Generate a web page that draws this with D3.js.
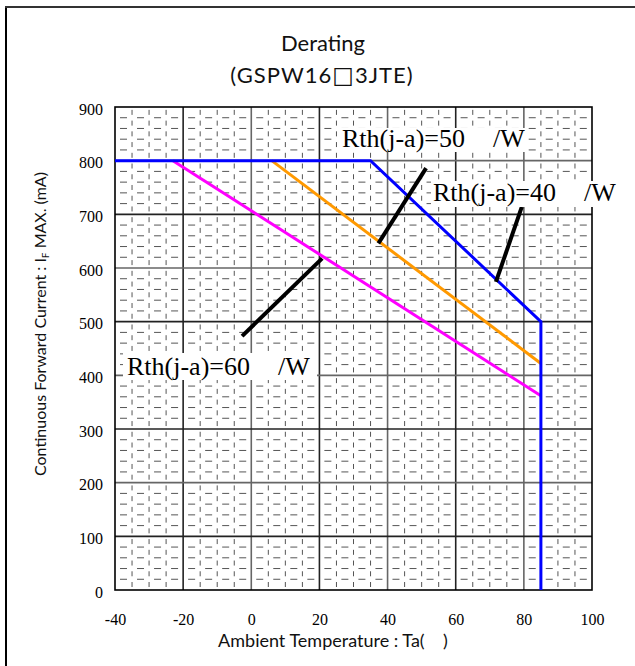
<!DOCTYPE html>
<html>
<head>
<meta charset="utf-8">
<script src="https://cdn.jsdelivr.net/npm/d3@7"></script>
<style>
  html, body { margin: 0; padding: 0; background: #fff; }
  svg { display: block; }
  .tick text { font-family: "Liberation Serif", "Times New Roman", serif !important; }
</style>
</head>
<body>
<svg id="chart" width="635" height="666"></svg>
<script>
// ---- data ----
const tempTicks = [-40, -20, 0, 20, 40, 60, 80, 100];
const currentTicks = [0, 100, 200, 300, 400, 500, 600, 700, 800, 900];

// Rth(j-a)=40 /W (blue)
const rth40Temp = [-40, 35, 85, 85];
const rth40Current = [800, 800, 500, 0];
// Rth(j-a)=50 /W (orange)
const rth50Temp = [6, 85];
const rth50Current = [800, 422];
// Rth(j-a)=60 /W (magenta)
const rth60Temp = [-23, 85];
const rth60Current = [800, 362];

// leader lines [temp, current] pairs
const leader50 = [[51.3, 786], [37.3, 646]];
const leader40 = [[79.4, 714], [71.8, 574]];
const leader60 = [[-2.7, 473], [20.8, 618]];

const labelTexts = ["Rth(j-a)=50", "Rth(j-a)=40", "Rth(j-a)=60"];
const labelUnit = "/W";

const titleLine1 = "Derating";
const titleLine2 = ["(GSPW16", "\u25A1", "3JTE)"];
const xTitle = "Ambient Temperature : Ta(    )";

// ---- layout ----
(function () {
const svg = d3.select("#chart");
const pL = 115, pR = 592, pT = 107, pB = 590;

const x = d3.scaleLinear().domain([-40, 100]).range([pL, pR]);
const y = d3.scaleLinear().domain([0, 900]).range([pB, pT]);

// outer frame (only left/top visible)
svg.append("line").attr("x1", 6).attr("y1", 7).attr("x2", 6).attr("y2", 680)
  .attr("stroke", "#000").attr("stroke-width", 2);
svg.append("line").attr("x1", 5).attr("y1", 7).attr("x2", 650).attr("y2", 7)
  .attr("stroke", "#333").attr("stroke-width", 2);

// minor grid
const g = svg.append("g");
const minorT = d3.range(-40, 100.001, 5).filter(t => t % 20 !== 0);
const minorI = d3.range(0, 900.001, 20).filter(v => v % 100 !== 0);

g.selectAll(".mh").data(minorI).join("line")
  .attr("x1", pL).attr("x2", pR)
  .attr("y1", d => y(d)).attr("y2", d => y(d))
  .attr("stroke", "#555").attr("stroke-width", 1)
  .attr("stroke-dasharray", "7,10.03").attr("stroke-dashoffset", -5);

g.selectAll(".mv").data(minorT).join("line")
  .attr("y1", pB).attr("y2", pT)
  .attr("x1", d => x(d)).attr("x2", d => x(d))
  .attr("stroke", "#555").attr("stroke-width", 1)
  .attr("stroke-dasharray", "5,5.73").attr("stroke-dashoffset", -3);

// major grid
const majorT = d3.range(-20, 100, 20);
const majorI = d3.range(100, 900, 100);
g.selectAll(".Mv").data(majorT).join("line")
  .attr("y1", pB).attr("y2", pT)
  .attr("x1", d => x(d)).attr("x2", d => x(d))
  .attr("stroke", (d, i) => i % 2 ? "#666" : "#222").attr("stroke-width", 1.6);
g.selectAll(".Mh").data(majorI).join("line")
  .attr("x1", pL).attr("x2", pR)
  .attr("y1", d => y(d)).attr("y2", d => y(d))
  .attr("stroke", (d, i) => i % 2 ? "#666" : "#222").attr("stroke-width", 1.6);

// plot frame
svg.append("rect").attr("x", pL).attr("y", pT)
  .attr("width", pR - pL).attr("height", pB - pT)
  .attr("fill", "none").attr("stroke", "#000").attr("stroke-width", 1.6);

// series
const line = d3.line().x(d => x(d[0])).y(d => y(d[1]));
const series = [
  { t: rth60Temp, c: rth60Current, color: "#ff00ff" },
  { t: rth50Temp, c: rth50Current, color: "#ff9900" },
  { t: rth40Temp, c: rth40Current, color: "#0000ff" }
];
series.forEach(s => {
  svg.append("path")
    .attr("d", line(s.t.map((t, i) => [t, s.c[i]])))
    .attr("fill", "none").attr("stroke", s.color).attr("stroke-width", 3)
    .attr("stroke-linejoin", "miter");
});

// leaders
[leader50, leader40, leader60].forEach(L => {
  svg.append("path").attr("d", line(L))
    .attr("fill", "none").attr("stroke", "#000").attr("stroke-width", 4);
});

// labels with white boxes
const labels = [
  { text: labelTexts[0], bx: 340, by: 128, bw: 188, bh: 24, tx: 342, ty: 147 },
  { text: labelTexts[1], bx: 431, by: 181, bw: 184, bh: 26, tx: 433, ty: 201 },
  { text: labelTexts[2], bx: 123, by: 353, bw: 194, bh: 27, tx: 127, ty: 375 }
];
labels.forEach(l => {
  svg.append("rect").attr("x", l.bx).attr("y", l.by).attr("width", l.bw).attr("height", l.bh)
    .attr("fill", "#fff");
  const t = svg.append("text").attr("x", l.tx).attr("y", l.ty)
    .style("font-family", "'Liberation Serif', 'Times New Roman', serif")
    .attr("font-size", 26).attr("fill", "#000");
  t.append("tspan").text(l.text);
  t.append("tspan").attr("dx", 28).text(labelUnit);
});

// axes
const fmt = d => String(d);
const yAxis = d3.axisLeft(y).tickValues(currentTicks).tickFormat(fmt).tickSize(0).tickPadding(12);
const ya = svg.append("g").attr("transform", `translate(${pL},0)`).call(yAxis);
const xAxis = d3.axisBottom(x).tickValues(tempTicks).tickFormat(fmt).tickSize(0).tickPadding(24);
const xa = svg.append("g").attr("transform", `translate(0,${pB})`).call(xAxis);
[ya, xa].forEach(a => {
  a.attr("font-family", null).attr("font-size", null);
  a.select(".domain").remove();
  a.selectAll("text")
    .style("font-family", "'Liberation Serif', 'Times New Roman', serif")
    .style("font-size", "16px").attr("fill", "#000");
});
ya.selectAll("text").attr("dy", "0.45em");
xa.selectAll("text").attr("dy", "0.66em");

// titles
const sans = "Lato, 'Open Sans', sans-serif";
svg.append("text").attr("x", 323).attr("y", 51).attr("text-anchor", "middle")
  .style("font-family", sans).style("font-size", "22px").style("font-weight", 400)
  .attr("fill", "#111").text(titleLine1);
const t2 = svg.append("text").attr("x", 322).attr("y", 83).attr("text-anchor", "middle")
  .style("font-family", sans).style("font-size", "22px").style("font-weight", 400)
  .style("letter-spacing", "1px").attr("fill", "#111");
t2.append("tspan").text(titleLine2[0]);
t2.append("tspan").style("font-family", "'DejaVu Sans', sans-serif").style("font-size", "23px")
  .text(titleLine2[1]);
t2.append("tspan").text(titleLine2[2]);

svg.append("text").attr("x", 333).attr("y", 647).attr("text-anchor", "middle")
  .style("font-family", sans).style("font-size", "18px").style("font-weight", 400)
  .attr("fill", "#111").style("white-space", "pre").text(xTitle);

const yt = svg.append("text")
  .attr("transform", `translate(46,324) rotate(-90)`)
  .attr("text-anchor", "middle")
  .style("font-family", sans).style("font-size", "16px").style("font-weight", 400)
  .attr("fill", "#111");
yt.append("tspan").text("Continuous Forward Current : I");
yt.append("tspan").style("font-size", "10px").attr("dy", 3).text("F");
yt.append("tspan").attr("dy", -3).text(" MAX. (mA)");
})();
</script>
</body>
</html>
